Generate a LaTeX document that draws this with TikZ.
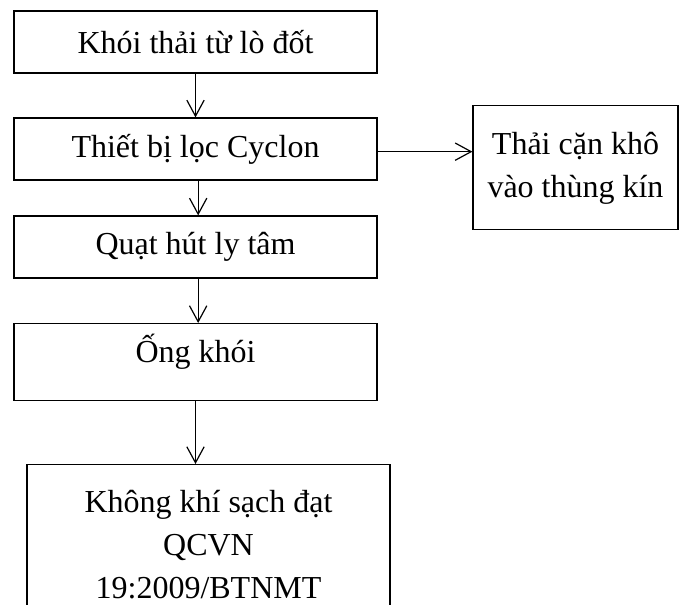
\documentclass[tikz,border=0pt]{standalone}
\usepackage{fontspec}
\setmainfont{Liberation Serif}
\usetikzlibrary{positioning,arrows.meta}
\tikzset{%
step box/.style={draw,rectangle,line width=0.9pt,minimum width=272.25pt,minimum height=46.5pt,inner sep=0pt},
flow/.style={draw,line width=0.9pt,-{Straight Barb[length=12pt,width=13pt,line width=0.9pt]}},
every node/.style={font=\fontsize{24pt}{32.25pt}\selectfont}
}
\begin{document}
\begin{tikzpicture}[x=0.75pt,y=-0.75pt]
  \useasboundingbox (0,0) rectangle (680,605);

  \node[step box] (smoke) at (195.5,42) {Khói thải từ lò đốt};
  \node[step box] (cyclon) at (195.5,149) {Thiết bị lọc Cyclon};
  \node[step box] (fan) at (195.5,247) {Quạt hút ly tâm};
  \node[step box,anchor=north,text height=29.25pt,text depth=28.5pt] (stack) at (195.5,323) {Ống khói};
  \node[step box,anchor=north,align=center,text height=100.5pt,text depth=12pt] (clean) at (208.5,464)
    {Không khí sạch đạt\\QCVN\\19:2009/BTNMT};
  \node[draw,rectangle,line width=0.9pt,minimum width=153.75pt,anchor=north,align=center,inner sep=0pt,text height=69pt,text depth=24pt] (waste) at (575.5,105)
    {Thải cặn khô\\vào thùng kín};

  \draw[flow] (smoke) -- (cyclon);
  \draw[flow] ([xshift=2pt]cyclon.south) -- ([xshift=2pt]fan.north);
  \draw[flow] ([xshift=2pt]fan.south) -- ([xshift=2pt]stack.north);
  \draw[flow] (stack.south) -- (stack.south |- clean.north);
  \draw[flow] ([yshift=-2pt]cyclon.east) -- ([yshift=-2pt]cyclon.east -| waste.west);
\end{tikzpicture}
\end{document}
